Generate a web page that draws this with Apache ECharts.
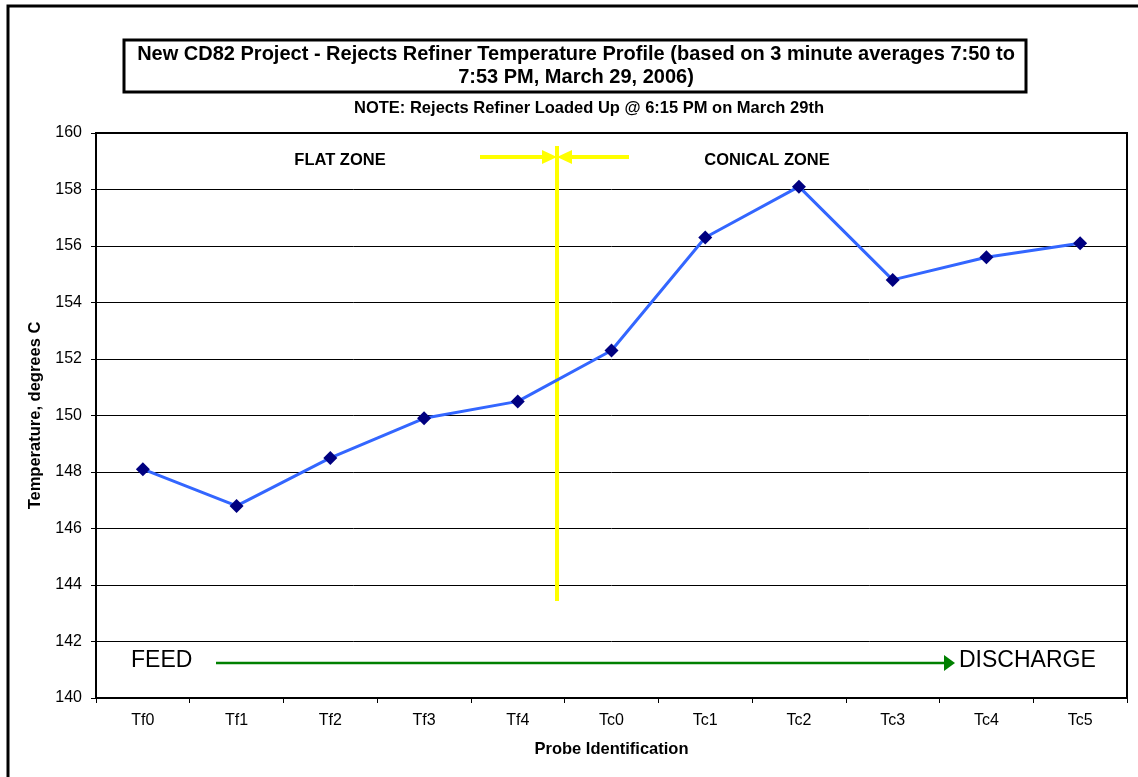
<!DOCTYPE html>
<html>
<head>
<meta charset="utf-8">
<script src="https://cdn.jsdelivr.net/npm/echarts@6/dist/echarts.min.js"></script>
<style>
  html, body { margin: 0; padding: 0; background: #fff; }
  #chart { width: 1138px; height: 777px; }
</style>
</head>
<body>
<div id="chart"></div>
<script>
// probe names along the refiner
const probes = ['Tf0', 'Tf1', 'Tf2', 'Tf3', 'Tf4', 'Tc0', 'Tc1', 'Tc2', 'Tc3', 'Tc4', 'Tc5']
// temperatures, degrees C (3 minute averages)
const temps = [148.1, 146.8, 148.5, 149.9, 150.5, 152.3, 156.3, 158.1, 154.8, 155.6, 156.1]
// y axis range
const yMin = 140
const yMax = 160
const yStep = 2

const font = 'Arial, "Liberation Sans", sans-serif'
let chart = echarts.init(document.getElementById('chart'))

let option = {
    animation: false,
    backgroundColor: '#fff',
    textStyle: { fontFamily: font },
    grid: {
        left: 96,
        right: 11,
        top: 133,
        bottom: 79,
        show: true,
        borderColor: '#000',
        borderWidth: 2,
        backgroundColor: '#fff'
    },
    xAxis: {
        type: 'category',
        data: probes,
        boundaryGap: true,
        name: 'Probe Identification',
        nameLocation: 'middle',
        nameGap: 43,
        nameTextStyle: { fontSize: 16.5, fontWeight: 'bold', color: '#000' },
        axisLine: { lineStyle: { color: '#000', width: 2 } },
        axisTick: { show: true, alignWithLabel: false, length: 5, lineStyle: { color: '#000' } },
        axisLabel: { color: '#000', fontSize: 16, margin: 15 },
        splitLine: { show: false }
    },
    yAxis: {
        type: 'value',
        min: yMin,
        max: yMax,
        interval: yStep,
        name: 'Temperature, degrees C',
        nameLocation: 'middle',
        nameGap: 52,
        nameRotate: 90,
        nameTextStyle: { fontSize: 16.5, fontWeight: 'bold', color: '#000' },
        axisLine: { show: true, lineStyle: { color: '#000', width: 2 } },
        axisTick: { show: true, length: 5, lineStyle: { color: '#000' } },
        axisLabel: { color: '#000', fontSize: 16, margin: 14 },
        splitLine: { show: true, lineStyle: { color: '#000', width: 1 } }
    },
    series: [{
        name: 'Temperature',
        type: 'line',
        data: temps,
        symbol: 'diamond',
        symbolSize: 14,
        z: 5,
        lineStyle: { color: '#3366ff', width: 3 },
        itemStyle: { color: '#000080' }
    }],
    graphic: [
        // outer chart frame
        { type: 'rect', shape: { x: 8, y: 6, width: 1140, height: 790 }, style: { fill: 'none', stroke: '#000', lineWidth: 3 }, z: 100 },
        // title box + title
        { type: 'rect', shape: { x: 124, y: 40, width: 902, height: 52 }, style: { fill: '#fff', stroke: '#000', lineWidth: 3 }, z: 100 },
        { type: 'text', x: 576, y: 66, style: {
            text: 'New CD82 Project - Rejects Refiner Temperature Profile (based on 3 minute averages 7:50 to\n7:53 PM, March 29, 2006)',
            font: 'bold 20px ' + font, fill: '#000', align: 'center', verticalAlign: 'middle', lineHeight: 23 }, z: 101 },
        // note
        { type: 'text', x: 589, y: 108, style: {
            text: 'NOTE: Rejects Refiner Loaded Up @ 6:15 PM on March 29th',
            font: 'bold 16.5px ' + font, fill: '#000', align: 'center', verticalAlign: 'middle' }, z: 100 },
        // zone labels
        { type: 'text', x: 340, y: 160, style: { text: 'FLAT ZONE', font: 'bold 16.5px ' + font, fill: '#000', align: 'center', verticalAlign: 'middle' }, z: 100 },
        { type: 'text', x: 767, y: 160, style: { text: 'CONICAL ZONE', font: 'bold 16.5px ' + font, fill: '#000', align: 'center', verticalAlign: 'middle' }, z: 100 },
        // yellow divider with arrows
        { type: 'line', shape: { x1: 557, y1: 146, x2: 557, y2: 601 }, style: { stroke: '#ffff00', lineWidth: 4 }, z: 3 },
        { type: 'line', shape: { x1: 480, y1: 157, x2: 545, y2: 157 }, style: { stroke: '#ffff00', lineWidth: 4 }, z: 3 },
        { type: 'polygon', shape: { points: [[542, 150], [542, 164], [557, 157]] }, style: { fill: '#ffff00' }, z: 3 },
        { type: 'line', shape: { x1: 569, y1: 157, x2: 629, y2: 157 }, style: { stroke: '#ffff00', lineWidth: 4 }, z: 3 },
        { type: 'polygon', shape: { points: [[572, 150], [572, 164], [557, 157]] }, style: { fill: '#ffff00' }, z: 3 },
        // feed -> discharge arrow
        { type: 'text', x: 131, y: 661, style: { text: 'FEED', font: '23px ' + font, fill: '#000', verticalAlign: 'middle' }, z: 100 },
        { type: 'line', shape: { x1: 216, y1: 663, x2: 946, y2: 663 }, style: { stroke: '#008000', lineWidth: 2.5 }, z: 100 },
        { type: 'polygon', shape: { points: [[944, 655], [944, 671], [955, 663]] }, style: { fill: '#008000' }, z: 100 },
        { type: 'text', x: 959, y: 661, style: { text: 'DISCHARGE', font: '23px ' + font, fill: '#000', verticalAlign: 'middle' }, z: 100 }
    ]
}

chart.setOption(option)
</script>
</body>
</html>
